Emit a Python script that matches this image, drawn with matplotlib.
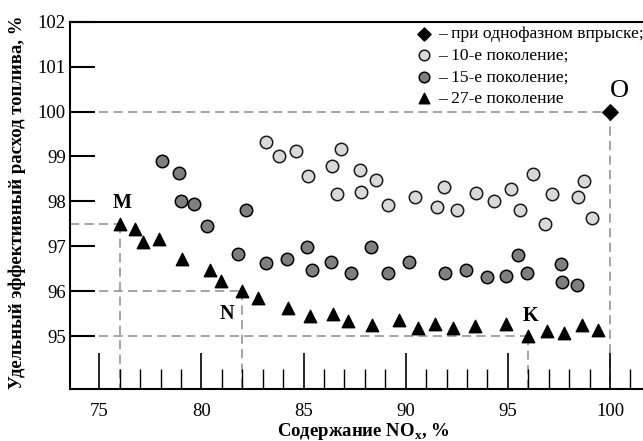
import matplotlib
matplotlib.use('Agg')
import matplotlib.pyplot as plt

plt.rcParams['font.family'] = ['Liberation Serif', 'DejaVu Serif']
plt.rcParams['mathtext.fontset'] = 'custom'
plt.rcParams['mathtext.rm'] = 'Liberation Serif'
plt.rcParams['mathtext.bf'] = 'Liberation Serif:bold'

# 10-е поколение
gen10_x = [83.14, 83.81, 84.63, 85.22, 86.41, 86.82, 87.76, 88.54, 86.62, 87.80,
           89.13, 90.47, 91.87, 91.53, 92.53, 93.46, 94.34, 95.15, 96.23, 95.59,
           97.14, 96.82, 98.43, 98.73, 99.10]
gen10_y = [99.33, 99.00, 99.12, 98.56, 98.79, 99.17, 98.69, 98.47, 98.17, 98.21,
           97.92, 98.09, 98.32, 97.87, 97.80, 98.19, 98.01, 98.27, 98.60, 97.81,
           98.16, 97.50, 98.10, 98.45, 97.63]

# 15-е поколение
gen15_x = [78.07, 78.89, 79.00, 79.65, 80.25, 82.20, 81.81, 83.16, 84.19, 85.17,
           85.43, 86.34, 87.30, 88.30, 89.13, 90.17, 91.93, 92.93, 93.98, 94.93,
           95.48, 95.96, 97.58, 97.67, 98.37]
gen15_y = [98.89, 98.63, 98.01, 97.95, 97.44, 97.81, 96.83, 96.63, 96.72, 96.98,
           96.48, 96.64, 96.40, 96.98, 96.40, 96.64, 96.40, 96.47, 96.31, 96.33,
           96.80, 96.41, 96.60, 96.21, 96.14]

# 27-е поколение
gen27_x = [76.00, 76.75, 77.12, 77.94, 79.03, 80.42, 80.94, 82.00, 82.75, 84.25,
           85.31, 86.42, 87.15, 88.34, 89.65, 90.58, 91.45, 92.30, 93.40, 94.90,
           96.00, 96.90, 97.76, 98.61, 99.39]
gen27_y = [97.50, 97.38, 97.09, 97.15, 96.72, 96.46, 96.22, 96.00, 95.85, 95.63,
           95.44, 95.48, 95.33, 95.24, 95.35, 95.17, 95.27, 95.17, 95.23, 95.26,
           95.00, 95.12, 95.07, 95.24, 95.13]

# однофазный впрыск
single_x = [100.0]
single_y = [100.0]

point_names = ['M', 'N', 'K', 'O']
point_x = [76.0, 82.0, 96.0, 100.0]
point_y = [97.5, 96.0, 95.0, 100.0]

legend_labels = ['– при однофазном впрыске;', '– 10-е поколение;',
                 '– 15-е поколение;', '– 27-е поколение']
xticks = [75, 80, 85, 90, 95, 100]
xminor = list(range(76, 102))
yticks = [95, 96, 97, 98, 99, 100, 101, 102]

W, H = 643, 441
fig = plt.figure(figsize=(W / 100, H / 100), dpi=100)
ax = fig.add_axes([70 / W, 1 - 389 / H, 1 - 70 / W, (389 - 21.7) / H])
xmin, xmax = 73.566, 101.615
ymin, ymax = 93.82, 102.0
ax.set_xlim(xmin, xmax)
ax.set_ylim(ymin, ymax)

# guide lines to the marked points
dash = dict(color='#8c8c8c', lw=1.1, linestyle=(0, (6, 3.5)), zorder=1)
for px, py in zip(point_x, point_y):
    ax.plot([xmin, px], [py, py], **dash)
    ax.plot([px, px], [py, ymin], **dash)

h_single = ax.scatter(single_x, single_y, marker='D', s=62, c='black', zorder=4)
h10 = ax.scatter(gen10_x, gen10_y, marker='o', s=80, c='#d9d9d9',
                 edgecolors='#1a1a1a', linewidths=1.1, zorder=3)
h15 = ax.scatter(gen15_x, gen15_y, marker='o', s=80, c='#7f7f7f',
                 edgecolors='black', linewidths=1.1, zorder=3)
h27 = ax.scatter(gen27_x, gen27_y, marker='^', s=80, c='black', zorder=3)

offsets = {'M': (2, 15), 'N': (-11, -16.5), 'K': (1.5, 14.5), 'O': (7, 14.5)}
for name, px, py in zip(point_names, point_x, point_y):
    bold = name != 'O'
    ax.annotate(name, (px, py), xytext=offsets[name], textcoords='offset points',
                ha='center', va='center', fontsize=14.5 if bold else 19,
                fontweight='bold' if bold else 'normal', zorder=5)

for side in ['left', 'top', 'bottom']:
    ax.spines[side].set_linewidth(1.5)
ax.spines['right'].set_visible(False)

ax.set_xticks(xticks)
ax.set_xticks(xminor, minor=True)
ax.set_yticks(yticks)
ax.tick_params(axis='x', which='major', direction='in', length=26, width=1.2,
               pad=10, labelsize=13.5)
ax.tick_params(axis='x', which='minor', direction='in', length=14.5, width=1.0)
ax.tick_params(axis='y', which='major', direction='in', length=18, width=1.5,
               pad=3, labelsize=13.5)

leg = ax.legend([h_single, h10, h15, h27], legend_labels, loc='upper left',
                bbox_to_anchor=(415 / W, 1 - 26 / H), bbox_transform=fig.transFigure,
                frameon=False, fontsize=12.6, handlelength=1.0, handletextpad=0.35,
                labelspacing=0.3, borderpad=0, borderaxespad=0, markerscale=0.85)

fig.text(17.7 / W, 1 - 202 / H, 'Удельный эффективный расход топлива, %',
         rotation=90, ha='center', va='center', fontsize=13.5, fontweight='bold')
fig.text(363 / W, 1 - 431.7 / H, r'Содержание NO$_\mathbf{x}$, %',
         ha='center', va='center', fontsize=13.5, fontweight='bold')

fig.savefig('out.png', dpi=100)
